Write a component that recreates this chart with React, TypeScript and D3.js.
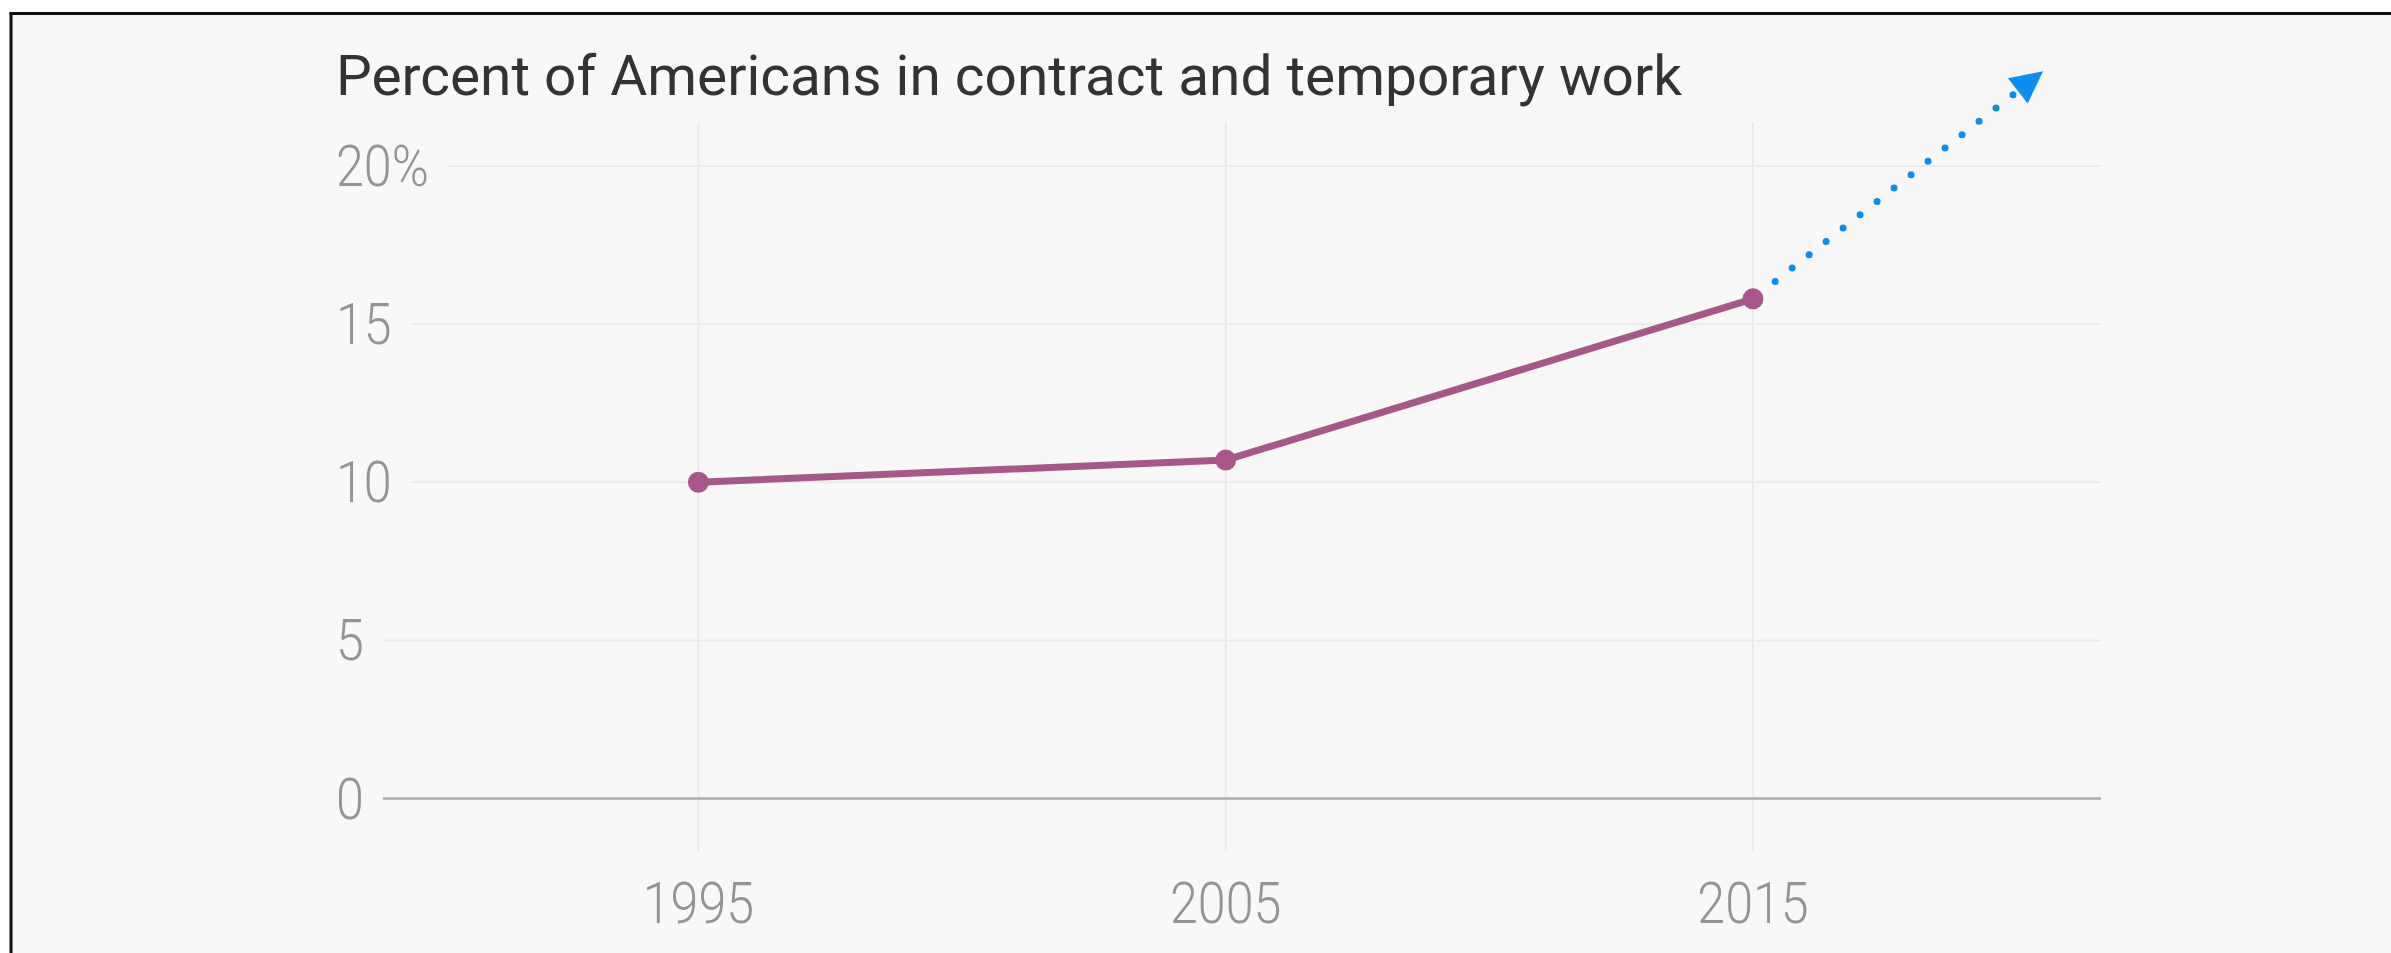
import React, { useEffect, useRef } from "react";
import * as d3 from "d3";

// ---- data ----
const years: number[] = [1995, 2005, 2015];
const values: number[] = [10.0, 10.7, 15.8];
const yTicks: number[] = [0, 5, 10, 15, 20];
const yTickLabels: string[] = ["0", "5", "10", "15", "20%"];
const xTicks: number[] = [1995, 2005, 2015];
const xTickLabels: string[] = ["1995", "2005", "2015"];
const title = "Percent of Americans in contract and temporary work";
// annotation arrow: from the last point toward this (year, value)
const arrowEnd: number[] = [2020.5, 23.0];

const W = 2391;
const H = 953;

export default function App() {
  const ref = useRef<SVGSVGElement | null>(null);

  useEffect(() => {
    const svg = d3.select(ref.current);
    svg.selectAll("*").remove();

    const font = "Roboto, 'Noto Sans', sans-serif";
    const x = d3.scaleLinear().domain([1989, 2021.6]).range([382, 2101]);
    const y = d3.scaleLinear().domain([0, 20]).range([798.5, 166]);

    // background + frame
    svg.append("rect").attr("x", 0).attr("y", 0).attr("width", W).attr("height", H).attr("fill", "#ffffff");
    svg.append("rect").attr("x", 11).attr("y", 13.5).attr("width", W).attr("height", H).attr("fill", "#f8f8f8");
    svg.append("line").attr("x1", 9.5).attr("x2", W).attr("y1", 13.5).attr("y2", 13.5).attr("stroke", "#111").attr("stroke-width", 3);
    svg.append("line").attr("x1", 11).attr("x2", 11).attr("y1", 12).attr("y2", H).attr("stroke", "#111").attr("stroke-width", 3);

    // title
    svg.append("text")
      .attr("x", 336).attr("y", 95)
      .attr("font-family", font).attr("font-size", 56).attr("font-weight", 400)
      .attr("fill", "#333333")
      .attr("textLength", 1346).attr("lengthAdjust", "spacingAndGlyphs")
      .text(title);

    // vertical gridlines
    svg.append("g").selectAll("line").data(xTicks).join("line")
      .attr("x1", (d) => x(d)).attr("x2", (d) => x(d))
      .attr("y1", 122).attr("y2", 852)
      .attr("stroke", "#ebebeb").attr("stroke-width", 2);

    // y labels and horizontal gridlines
    const labelScale = 0.88;
    const yg = svg.append("g");
    yTicks.forEach((t, i) => {
      const tx = yg.append("text")
        .attr("transform", `translate(336,${y(t) + 20}) scale(${labelScale},1)`)
        .attr("font-family", font).attr("font-size", 57).attr("font-weight", 300)
        .attr("fill", "#949494")
        .text(yTickLabels[i]);
      const w = (tx.node() as SVGTextElement).getComputedTextLength() * labelScale;
      yg.insert("line", "text")
        .attr("x1", 336 + w + 19).attr("x2", x(2021.6))
        .attr("y1", y(t)).attr("y2", y(t))
        .attr("stroke", t === 0 ? "#acacac" : "#ececec")
        .attr("stroke-width", t === 0 ? 2.5 : 2);
    });

    // x labels
    svg.append("g").selectAll("text").data(xTicks).join("text")
      .attr("transform", (d) => `translate(${x(d)},923) scale(${labelScale},1)`)
      .attr("text-anchor", "middle")
      .attr("font-family", font).attr("font-size", 57).attr("font-weight", 300)
      .attr("fill", "#949494")
      .text((_, i) => xTickLabels[i]);

    // arrow annotation
    const lastX = x(years[years.length - 1]);
    const lastY = y(values[values.length - 1]);
    const tipX = x(arrowEnd[0]);
    const tipY = y(arrowEnd[1]);
    const dx = tipX - lastX;
    const dy = tipY - lastY;
    const len = Math.hypot(dx, dy);
    const ux = dx / len;
    const uy = dy / len;
    const s0 = 28.2;
    const s1 = len - 37;
    svg.append("line")
      .attr("x1", lastX + ux * s0).attr("y1", lastY + uy * s0)
      .attr("x2", lastX + ux * (s1 + 0.5)).attr("y2", lastY + uy * (s1 + 0.5))
      .attr("stroke", "#0b8ef2").attr("stroke-width", 7)
      .attr("stroke-linecap", "round")
      .attr("stroke-dasharray", "0 21.6");
    const headLen = 32;
    const headHalf = 16;
    const bx = tipX - ux * headLen;
    const by = tipY - uy * headLen;
    const px = -uy;
    const py = ux;
    svg.append("path")
      .attr("d", `M${tipX},${tipY}L${bx + px * headHalf},${by + py * headHalf}L${bx - px * headHalf},${by - py * headHalf}Z`)
      .attr("fill", "#0b8ef2");

    // data line
    const pts = years.map((yr, i) => [x(yr), y(values[i])] as [number, number]);
    svg.append("path")
      .attr("d", d3.line()(pts) as string)
      .attr("fill", "none").attr("stroke", "#a9568a").attr("stroke-width", 7)
      .attr("stroke-linejoin", "round");
    svg.append("g").selectAll("circle").data(pts).join("circle")
      .attr("cx", (d) => d[0]).attr("cy", (d) => d[1]).attr("r", 10.5)
      .attr("fill", "#a9568a");
  }, []);

  return (
    <>
      <style>{`body{margin:0;overflow:hidden}`}</style>
      <svg ref={ref} width={W} height={H} style={{ display: "block" }} />
    </>
  );
}
